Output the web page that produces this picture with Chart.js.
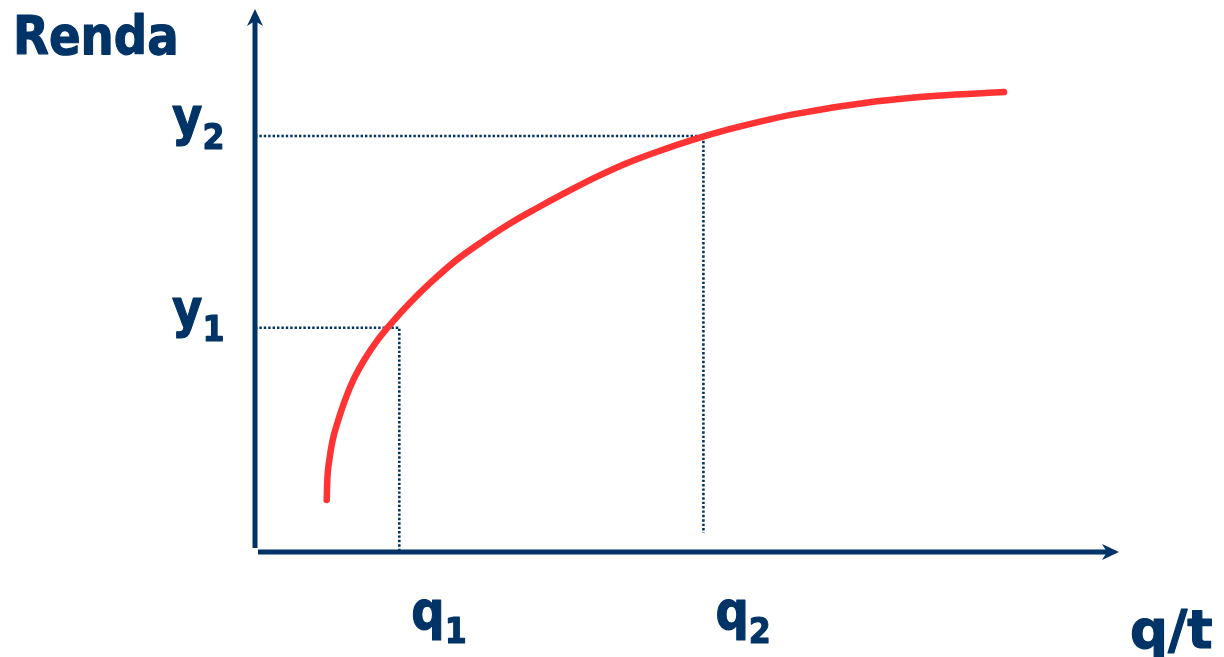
<!DOCTYPE html>
<html>
<head>
<meta charset="utf-8">
<title>Renda x q/t</title>
<script src="https://cdn.jsdelivr.net/npm/chart.js@4/dist/chart.umd.min.js"></script>
<style>
    html, body { margin: 0; padding: 0; background: #fff; }
    canvas { display: block; }
</style>
</head>
<body>
<canvas id="engelChart" width="1224" height="657"></canvas>
<script>
// Engel curve (x and y in 0..100 units of the drawn axes)
const curveQ = [8.3, 8.37, 8.6, 8.99, 9.64, 10.42, 11.38, 12.73, 14.27, 15.82, 17.94, 20.25, 23.34, 26.42, 29.51, 32.6, 35.5, 39.16, 43.02, 46.88, 50.73, 54.6, 58.45, 62.3, 71.99, 78.94, 86.69];
const curveY = [9.58, 13.26, 16.94, 20.63, 24.31, 27.99, 31.68, 35.6, 39.2, 42.2, 45.9, 49.5, 53.8, 57.3, 60.5, 63.3, 65.8, 68.8, 71.6, 73.9, 75.94, 77.72, 79.26, 80.6, 83.0, 84.04, 84.7];

// reference levels and their labels
const qLevels = [16.7, 51.9];
const qDropEnd = [0, 3.5];
const yLevels = [41.3, 76.6];
const qNames = ['q', 'q'];
const yNames = ['y', 'y'];
const levelSubs = ['1', '2'];
const yAxisTitle = 'Renda';
const xAxisTitle = 'q/t';

const NAVY = '#003366';
const RED = '#ff3333';
const FONT = '"DejaVu Sans", Verdana, sans-serif';

// build the datasets
const curvePoints = curveQ.map((q, i) => ({ x: q, y: curveY[i] }));
const guideSets = qLevels.map((q, i) => ({
    data: [{ x: 0, y: yLevels[i] }, { x: q, y: yLevels[i] }, { x: q, y: qDropEnd[i] }],
    borderColor: NAVY,
    borderWidth: 2.6,
    borderDash: [2.4, 2],
    pointRadius: 0,
    showLine: true,
    tension: 0,
}));

// label with a subscript, squeezed a bit to look like the original bold face
function drawSubLabel(ctx, base, sub, x, baseline, squeeze = 0.88) {
    ctx.save();
    ctx.translate(x, baseline);
    ctx.scale(squeeze, 1);
    ctx.fillStyle = NAVY;
    ctx.strokeStyle = NAVY;
    ctx.lineWidth = 1.2;
    ctx.lineJoin = 'round';
    ctx.textBaseline = 'alphabetic';
    ctx.textAlign = 'left';
    ctx.font = 'bold 53px ' + FONT;
    ctx.fillText(base, 0, 0);
    ctx.strokeText(base, 0, 0);
    const w = ctx.measureText(base).width;
    if (sub) {
        ctx.font = 'bold 36px ' + FONT;
        ctx.fillText(sub, w, 14);
        ctx.strokeText(sub, w, 14);
    }
    ctx.restore();
}

const axesPlugin = {
    id: 'arrowAxes',
    beforeDatasetsDraw(chart) {
        const { ctx, chartArea } = chart;
        const { left, right, top, bottom } = chartArea;
        ctx.save();
        ctx.strokeStyle = NAVY;
        ctx.fillStyle = NAVY;
        ctx.lineWidth = 5;
        ctx.lineCap = 'butt';

        // y axis
        ctx.beginPath();
        ctx.moveTo(left, top + 12);
        ctx.lineTo(left, bottom - 4);
        ctx.stroke();
        ctx.beginPath();
        ctx.moveTo(left, top);
        ctx.lineTo(left + 8, top + 17);
        ctx.lineTo(left, top + 12);
        ctx.lineTo(left - 8, top + 17);
        ctx.closePath();
        ctx.fill();

        // x axis
        ctx.beginPath();
        ctx.moveTo(left + 3, bottom);
        ctx.lineTo(right - 12, bottom);
        ctx.stroke();
        ctx.beginPath();
        ctx.moveTo(right, bottom);
        ctx.lineTo(right - 17, bottom - 8);
        ctx.lineTo(right - 12, bottom);
        ctx.lineTo(right - 17, bottom + 8);
        ctx.closePath();
        ctx.fill();
        ctx.restore();
    },
    afterDraw(chart) {
        const { ctx } = chart;
        const xs = chart.scales.x;
        const ys = chart.scales.y;

        yLevels.forEach((v, i) => {
            drawSubLabel(ctx, yNames[i], levelSubs[i], 172, ys.getPixelForValue(v) - 1);
        });
        qLevels.forEach((v, i) => {
            drawSubLabel(ctx, qNames[i], levelSubs[i], xs.getPixelForValue(v) + 12, 629);
        });

        drawSubLabel(ctx, yAxisTitle, '', 13, 54);
        drawSubLabel(ctx, xAxisTitle, '', 1130, 648, 1);
    },
};

new Chart(document.getElementById('engelChart').getContext('2d'), {
    type: 'scatter',
    data: {
        datasets: [
            {
                data: curvePoints,
                borderColor: RED,
                borderWidth: 6.5,
                borderCapStyle: 'round',
                borderJoinStyle: 'round',
                pointRadius: 0,
                showLine: true,
                cubicInterpolationMode: 'monotone',
            },
            ...guideSets,
        ],
    },
    options: {
        responsive: false,
        animation: false,
        devicePixelRatio: 1,
        layout: { padding: { left: 255, right: 105, top: 9, bottom: 105 } },
        plugins: {
            legend: { display: false },
            tooltip: { enabled: false },
        },
        scales: {
            x: { type: 'linear', min: 0, max: 100, display: false },
            y: { type: 'linear', min: 0, max: 100, display: false },
        },
    },
    plugins: [axesPlugin],
});
</script>
</body>
</html>
